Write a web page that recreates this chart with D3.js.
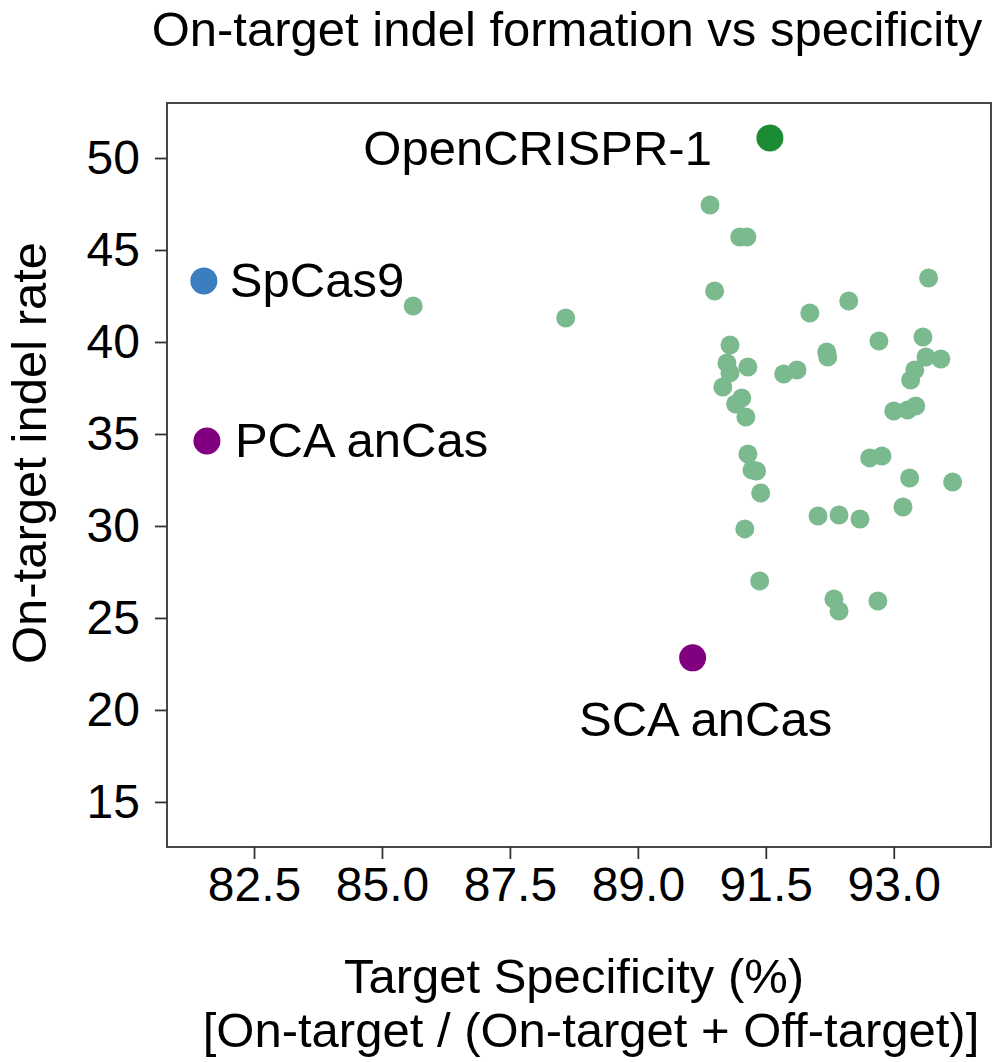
<!DOCTYPE html>
<html>
<head>
<meta charset="utf-8">
<script src="https://cdn.jsdelivr.net/npm/d3@7"></script>
<style>
  html, body { margin: 0; padding: 0; background: #fff; }
  svg { display: block; }
  text { font-family: "Liberation Sans", Arial, Helvetica, sans-serif; fill: #000; }
</style>
</head>
<body>
<script>
// ---------- data ----------
const variantX = [91.41, 91.99, 92.13, 95.68, 91.50, 94.12, 93.36, 95.57, 91.80, 94.71,
                  93.69, 93.71, 91.74, 95.63, 95.92, 92.15, 91.80, 95.41, 93.11, 92.85,
                  91.66, 95.33, 92.03, 91.91, 92.11, 95.00, 95.27, 95.43, 92.15, 92.23,
                  92.32, 92.40, 94.53, 94.77, 95.31, 96.15, 95.18, 93.52, 93.93, 94.34,
                  92.09, 92.38, 93.83, 93.93, 94.69, 85.61, 88.59];
const variantY = [47.45, 45.71, 45.71, 43.48, 42.77, 42.23, 41.58, 40.27, 39.84, 40.05,
                  39.46, 39.18, 38.86, 39.18, 39.08, 38.64, 38.32, 38.48, 38.48, 38.26,
                  37.55, 37.93, 36.96, 36.63, 35.92, 36.25, 36.30, 36.52, 33.91, 33.04,
                  32.99, 31.79, 33.70, 33.80, 32.61, 32.39, 31.03, 30.54, 30.60, 30.38,
                  29.84, 27.01, 26.03, 25.38, 25.92, 41.96, 41.30];

const namedLabels = ["OpenCRISPR-1", "SpCas9", "PCA anCas", "SCA anCas"];
const namedX = [92.58, 81.52, 81.58, 91.07];
const namedY = [51.09, 43.32, 34.62, 22.83];
const namedColors = ["#1b8c33", "#3a7ebf", "#800080", "#800080"];

const xTickValues = [82.5, 85, 87.5, 90, 92.5, 95];
const xTickLabels = ["82.5", "85.0", "87.5", "89.0", "91.5", "93.0"];
const yTickValues = [15, 20, 25, 30, 35, 40, 45, 50];

// ---------- layout ----------
const W = 1000, H = 1062;
const mLeft = 167, mRight = 991, mTop = 103, mBottom = 847;
const FS = 49, TFS = 48;

const svg = d3.select("body").append("svg").attr("width", W).attr("height", H);

const x = d3.scaleLinear().domain([80.80, 96.90]).range([mLeft, mRight]);
const y = d3.scaleLinear().domain([12.55, 52.99]).range([mBottom, mTop]);

// frame
svg.append("rect")
  .attr("x", mLeft).attr("y", mTop)
  .attr("width", mRight - mLeft).attr("height", mBottom - mTop)
  .attr("fill", "none").attr("stroke", "#333").attr("stroke-width", 1.8);

// axes
const xAxis = d3.axisBottom(x).tickValues(xTickValues)
  .tickFormat((d, i) => xTickLabels[i]).tickSize(12).tickSizeOuter(0).tickPadding(8);
const gx = svg.append("g").attr("transform", `translate(0,${mBottom})`).call(xAxis);
gx.select(".domain").remove();
gx.selectAll(".tick line").attr("stroke", "#333").attr("stroke-width", 1.8);
gx.selectAll(".tick text").style("font-size", TFS + "px").attr("fill", "#000");

const yAxis = d3.axisLeft(y).tickValues(yTickValues).tickSize(12).tickSizeOuter(0).tickPadding(15);
const gy = svg.append("g").attr("transform", `translate(${mLeft},0)`).call(yAxis);
gy.select(".domain").remove();
gy.selectAll(".tick line").attr("stroke", "#333").attr("stroke-width", 1.8);
gy.selectAll(".tick text").style("font-size", TFS + "px").attr("fill", "#000");

// variant points
const variants = variantX.map((v, i) => ({ x: v, y: variantY[i] }));
svg.append("g").selectAll("circle").data(variants).join("circle")
  .attr("cx", d => x(d.x)).attr("cy", d => y(d.y)).attr("r", 9.5)
  .attr("fill", "#7bb98f");

// named points
const named = namedLabels.map((n, i) => ({ name: n, x: namedX[i], y: namedY[i], c: namedColors[i] }));
svg.append("g").selectAll("circle").data(named).join("circle")
  .attr("cx", d => x(d.x)).attr("cy", d => y(d.y)).attr("r", 13.5)
  .attr("fill", d => d.c);

// labels for named points (offsets are styling)
const labelOffsets = {
  "OpenCRISPR-1": { dx: -58, dy: 27, anchor: "end" },
  "SpCas9": { dx: 26, dy: 16, anchor: "start" },
  "PCA anCas": { dx: 28, dy: 16, anchor: "start" },
  "SCA anCas": { dx: 13, dy: 78, anchor: "middle" }
};
svg.append("g").selectAll("text").data(named).join("text")
  .attr("x", d => x(d.x) + labelOffsets[d.name].dx)
  .attr("y", d => y(d.y) + labelOffsets[d.name].dy)
  .attr("text-anchor", d => labelOffsets[d.name].anchor)
  .style("font-size", FS + "px")
  .text(d => d.name);

// title
svg.append("text").attr("x", 567).attr("y", 46).attr("text-anchor", "middle")
  .style("font-size", FS + "px").text("On-target indel formation vs specificity");

// axis titles
svg.append("text").attr("transform", `translate(46,453) rotate(-90)`)
  .attr("text-anchor", "middle").style("font-size", FS + "px").text("On-target indel rate");

svg.append("text").attr("x", 574).attr("y", 993).attr("text-anchor", "middle")
  .style("font-size", FS + "px").text("Target Specificity (%)");
svg.append("text").attr("x", 591).attr("y", 1047).attr("text-anchor", "middle")
  .style("font-size", FS + "px").text("[On-target / (On-target + Off-target)]");
</script>
</body>
</html>
